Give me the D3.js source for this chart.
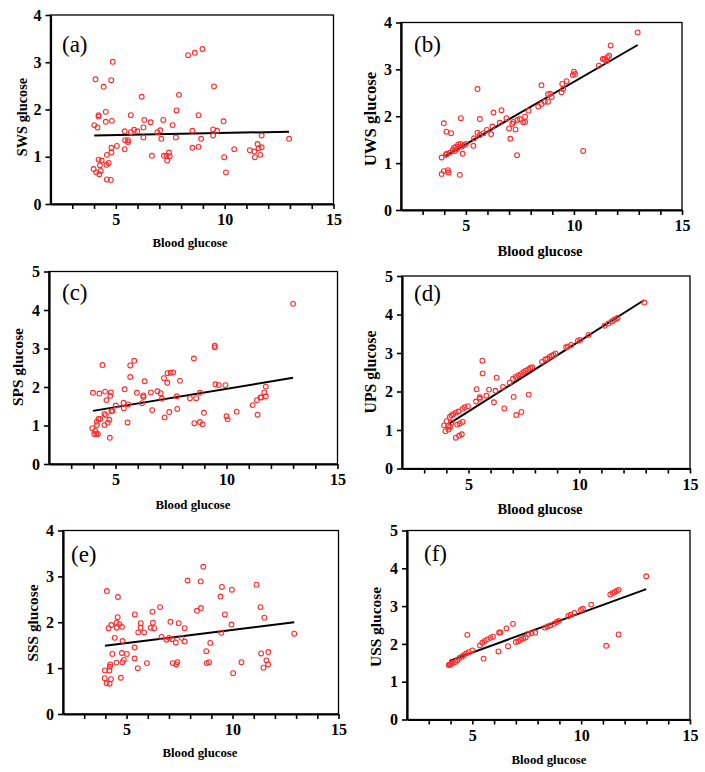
<!DOCTYPE html>
<html>
<head>
<meta charset="utf-8">
<script src="https://cdn.jsdelivr.net/npm/d3@7/dist/d3.min.js"></script>
<style>
  html, body { margin: 0; padding: 0; background: #fff; }
  svg { display: block; }
  text { font-family: "Liberation Serif", "Times New Roman", serif; }
</style>
</head>
<body>
<div id="chart"></div>
<script>
// blood glucose (x) vs. saliva glucose (y), one list of points per panel
const swsPoints = [
  [3.98,0.74],[4.10,0.67],[4.24,0.63],[4.31,0.70],[4.21,0.94],[4.35,0.92],[4.27,0.82],[4.67,0.87],
  [4.57,0.83],[4.59,1.04],[4.80,1.09],[4.80,1.19],[5.05,1.23],[4.59,0.52],[4.77,0.51],[4.01,1.67],
  [4.16,1.62],[4.21,1.88],[4.21,1.85],[4.54,1.95],[4.54,1.74],[4.82,1.76],[4.07,2.64],[4.44,2.48],
  [4.79,2.62],[4.86,3.01],[5.41,1.54],[5.43,1.35],[5.56,1.35],[5.56,1.31],[5.41,1.16],[5.69,1.88],
  [5.69,1.52],[5.84,1.57],[5.99,1.54],[6.19,2.27],[6.27,1.62],[6.27,1.41],[6.31,1.78],[6.60,1.73],
  [6.66,1.02],[6.91,1.52],[7.04,1.56],[7.09,1.38],[7.18,1.78],[7.21,1.02],[7.33,1.02],[7.36,0.92],
  [7.44,1.09],[7.48,1.01],[7.61,1.67],[7.76,1.41],[7.79,1.98],[7.90,2.31],[8.32,3.15],[8.63,3.20],
  [8.98,3.28],[8.52,1.55],[8.52,1.19],[8.80,1.88],[8.80,1.21],[8.92,1.38],[9.47,1.45],[9.47,1.58],
  [9.51,2.49],[9.65,1.55],[9.95,1.75],[9.98,0.99],[10.06,0.67],[10.44,1.16],[11.16,1.14],[11.36,1.11],
  [11.39,0.99],[11.51,1.27],[11.56,1.18],[11.64,1.04],[11.70,1.45],[11.70,1.20],[12.96,1.38]
];
const uwsPoints = [
  [3.88,1.12],[3.88,0.77],[3.98,0.83],[3.98,1.85],[4.08,1.18],[4.12,1.20],[4.10,1.67],[4.17,0.85],
  [4.20,0.80],[4.26,1.22],[4.32,1.64],[4.40,1.28],[4.45,1.33],[4.50,1.26],[4.55,1.35],[4.60,1.30],
  [4.65,1.40],[4.72,0.75],[4.77,1.96],[4.77,1.41],[4.80,1.35],[4.85,1.20],[4.90,1.38],[5.00,1.41],
  [5.35,1.37],[5.38,1.53],[5.54,2.58],[5.54,1.65],[5.65,1.94],[5.65,1.60],[5.82,1.64],[5.97,1.71],
  [6.17,1.62],[6.23,1.78],[6.28,2.08],[6.57,1.86],[6.65,2.13],[6.88,1.96],[7.00,1.74],[7.06,1.52],
  [7.15,1.84],[7.20,1.88],[7.30,1.72],[7.37,1.17],[7.38,1.92],[7.50,1.94],[7.65,1.87],[7.74,1.99],
  [7.74,1.88],[7.90,2.12],[8.35,2.21],[8.50,2.26],[8.50,2.66],[8.65,2.31],[8.80,2.31],[8.80,2.47],
  [8.90,2.48],[8.97,2.41],[9.43,2.51],[9.46,2.69],[9.50,2.58],[9.66,2.75],[9.95,2.88],[10.00,2.95],
  [10.05,2.90],[10.43,1.26],[11.15,3.08],[11.34,3.22],[11.42,3.22],[11.50,3.18],[11.55,3.26],[11.63,3.29],
  [11.70,3.51],[12.95,3.79]
];
const spsPoints = [
  [3.95,0.93],[3.98,1.85],[4.04,0.78],[4.13,0.78],[4.20,0.78],[4.08,0.86],[4.16,1.01],[4.16,1.10],
  [4.23,1.17],[4.31,1.17],[4.27,1.83],[4.41,2.57],[4.53,1.88],[4.59,1.66],[4.79,1.86],[4.76,1.77],
  [4.81,1.37],[4.86,1.38],[4.74,0.68],[4.65,1.07],[4.72,1.15],[4.50,1.01],[4.56,1.27],[4.50,1.30],
  [5.01,1.52],[5.36,1.59],[5.37,1.45],[5.41,1.94],[5.54,1.08],[5.57,1.55],[5.66,2.56],[5.66,2.26],
  [5.84,2.68],[5.96,1.85],[6.19,1.58],[6.25,1.78],[6.26,1.74],[6.31,2.15],[6.59,1.86],[6.65,1.40],
  [6.89,1.89],[7.03,1.84],[7.09,1.70],[7.18,2.23],[7.21,1.21],[7.33,2.11],[7.34,2.36],[7.48,2.37],
  [7.60,2.38],[7.42,1.35],[7.76,1.76],[7.78,1.43],[7.90,2.16],[8.35,1.71],[8.53,2.74],[8.55,1.06],
  [8.63,1.71],[8.80,1.85],[8.80,1.09],[8.92,1.03],[8.98,1.33],[9.47,3.07],[9.47,3.03],[9.50,2.07],
  [9.65,2.05],[9.95,2.05],[10.00,1.24],[10.05,1.16],[10.46,1.36],[11.18,1.53],[11.37,1.66],[11.40,1.28],
  [11.53,1.73],[11.57,1.73],[11.70,1.86],[11.77,2.01],[11.77,1.76],[13.00,4.16]
];
const upsPoints = [
  [3.90,1.12],[3.96,0.97],[4.01,1.23],[4.08,1.10],[4.10,1.01],[4.17,1.08],[4.16,1.34],[4.23,1.38],
  [4.31,1.41],[4.43,1.45],[4.55,1.48],[4.23,1.19],[4.43,0.80],[4.58,0.85],[4.70,0.89],[4.49,1.14],
  [4.61,1.17],[4.73,1.21],[4.73,1.55],[4.83,1.59],[4.98,1.62],[5.37,2.06],[5.34,1.74],[5.51,1.81],
  [5.51,1.85],[5.63,2.80],[5.64,2.47],[5.81,1.89],[5.93,2.05],[6.15,1.72],[6.22,2.02],[6.27,2.36],
  [6.56,2.12],[6.62,1.56],[6.86,2.23],[7.01,2.33],[7.13,2.38],[7.25,2.42],[7.36,2.45],[7.48,2.50],
  [7.58,2.54],[7.70,2.57],[7.79,2.61],[7.88,2.63],[7.04,1.86],[7.16,1.39],[7.39,1.47],[7.72,1.92],
  [8.32,2.77],[8.47,2.83],[8.56,2.85],[8.66,2.90],[8.75,2.93],[8.84,2.95],[8.93,2.99],[9.41,3.15],
  [9.49,3.17],[9.64,3.21],[9.94,3.32],[10.04,3.34],[10.42,3.47],[11.14,3.71],[11.32,3.77],[11.47,3.82],
  [11.56,3.86],[11.65,3.88],[11.73,3.91],[12.94,4.31]
];
const sssPoints = [
  [4.07,2.68],[4.59,2.55],[4.58,2.11],[4.15,1.87],[4.28,1.94],[4.53,1.99],[4.66,1.96],[4.78,1.90],
  [4.53,1.88],[4.44,1.66],[4.81,1.59],[4.33,1.31],[4.78,1.33],[5.01,1.31],[4.87,1.18],[4.80,1.13],
  [4.52,1.12],[4.23,1.08],[4.21,1.03],[4.19,0.95],[3.98,0.95],[3.97,0.78],[4.06,0.67],[4.20,0.66],
  [4.26,0.76],[4.73,0.79],[5.39,2.17],[5.38,1.45],[5.38,1.21],[5.53,1.00],[5.55,1.78],[5.66,1.88],
  [5.67,1.98],[5.83,1.78],[5.96,1.11],[6.22,2.23],[6.24,1.99],[6.14,1.88],[6.30,1.87],[6.58,2.33],
  [6.65,1.68],[6.88,1.62],[7.00,1.66],[7.07,2.01],[7.16,1.63],[7.32,1.56],[7.18,1.11],[7.34,1.08],
  [7.40,1.13],[7.46,1.98],[7.59,1.66],[7.74,1.87],[7.74,1.58],[7.88,2.91],[8.32,2.25],[8.50,2.89],
  [8.51,2.31],[8.62,3.21],[8.76,1.37],[8.78,1.11],[8.89,1.13],[8.95,1.55],[9.43,2.56],[9.50,2.77],
  [9.47,1.77],[9.64,2.17],[9.95,1.95],[9.97,2.71],[10.03,0.89],[10.42,1.13],[11.13,2.82],[11.32,2.33],
  [11.35,1.32],[11.50,2.10],[11.60,1.17],[11.68,1.08],[11.46,1.01],[11.69,1.35],[12.91,1.75]
];
const ussPoints = [
  [3.92,1.44],[3.96,1.45],[4.00,1.46],[4.05,1.48],[4.10,1.50],[4.22,1.52],[4.31,1.57],[4.41,1.63],
  [4.52,1.66],[4.61,1.70],[4.72,1.75],[4.83,1.78],[5.00,1.83],[4.77,2.24],[5.35,1.96],[5.46,2.03],
  [5.57,2.08],[5.69,2.12],[5.83,2.16],[5.95,2.19],[5.52,1.61],[6.20,1.80],[6.23,2.30],[6.29,2.30],
  [6.57,2.41],[6.64,1.94],[6.87,2.53],[7.00,2.05],[7.11,2.07],[7.22,2.11],[7.34,2.15],[7.45,2.17],
  [7.57,2.26],[7.72,2.28],[7.89,2.30],[8.34,2.43],[8.46,2.46],[8.58,2.49],[8.75,2.53],[8.88,2.58],
  [8.98,2.61],[9.41,2.74],[9.52,2.77],[9.69,2.82],[9.99,2.90],[10.08,2.93],[10.46,3.04],[11.15,1.95],
  [11.34,3.31],[11.45,3.35],[11.54,3.37],[11.63,3.40],[11.72,3.43],[11.72,2.25],[12.99,3.79]
];

// fitted regression lines, [x, y] at each end
const swsFit = [[4.01, 1.45], [12.96, 1.53]];
const uwsFit = [[4.05, 1.15], [12.95, 3.52]];
const spsFit = [[3.98, 1.38], [13.00, 2.24]];
const upsFit = [[4.15, 1.17], [12.92, 4.37]];
const sssFit = [[3.98, 1.49], [12.91, 2.00]];
const ussFit = [[3.95, 1.55], [12.99, 3.45]];

const panelTags = ["(a)", "(b)", "(c)", "(d)", "(e)", "(f)"];
const yTitles = ["SWS glucose", "UWS glucose", "SPS glucose", "UPS glucose", "SSS glucose", "USS glucose"];
const yMaxes = [4, 4, 5, 5, 4, 5];
const xTitle = "Blood glucose";
const xDomain = [2, 15];
const xTickLabels = [5, 10, 15];

const pointSets = [swsPoints, uwsPoints, spsPoints, upsPoints, sssPoints, ussPoints];
const fitSets = [swsFit, uwsFit, spsFit, upsFit, sssFit, ussFit];

// 面板版面 / panel layout in page pixels
const layout = [
  { l: 50.5, t: 15,    r: 333.5, b: 204,   yt: [22, 117, 14.3],  xt: [190, 247, 12.8], tag: [62, 52] },
  { l: 401,  t: 22.5,  r: 682,   b: 210,   yt: [370, 119, 16.8], xt: [540, 256, 14.5], tag: [414, 52] },
  { l: 49,   t: 271.5, r: 337.5, b: 464,   yt: [17, 367, 15.3],  xt: [193, 509, 12.8], tag: [62, 300] },
  { l: 402,  t: 276,   r: 690,   b: 468.5, yt: [370, 372, 15.8], xt: [540, 514, 14.5], tag: [414, 301] },
  { l: 63,   t: 530.5, r: 338.5, b: 714,   yt: [32, 623, 15.3],  xt: [200, 757, 12.8], tag: [71, 562] },
  { l: 407,  t: 530.5, r: 690,   b: 719.5, yt: [375, 627, 15.4], xt: [549, 764, 12.8], tag: [424, 561] }
];

const width = 705, height = 772;
const svg = d3.select("#chart").append("svg")
  .attr("width", width).attr("height", height)
  .attr("viewBox", `0 0 ${width} ${height}`);
svg.append("rect").attr("width", width).attr("height", height).attr("fill", "#fff");

layout.forEach((p, i) => {
  const x = d3.scaleLinear().domain(xDomain).range([p.l, p.r]);
  const y = d3.scaleLinear().domain([0, yMaxes[i]]).range([p.b, p.t]);
  const g = svg.append("g");

  // 外框 (上、右較細) / frame, top and right are thinner
  g.append("rect")
    .attr("x", p.l).attr("y", p.t)
    .attr("width", p.r - p.l).attr("height", p.b - p.t)
    .attr("fill", "none").attr("stroke", "#000").attr("stroke-width", 1.3);

  const yAxis = g.append("g")
    .attr("transform", `translate(${p.l},0)`)
    .call(d3.axisLeft(y).tickValues(d3.range(0, yMaxes[i] + 1)).tickSize(5).tickSizeOuter(0).tickPadding(4)
      .tickFormat(d3.format("d")));
  const xAxis = g.append("g")
    .attr("transform", `translate(0,${p.b})`)
    .call(d3.axisBottom(x).tickValues(d3.range(3, 16)).tickSize(5).tickSizeOuter(0).tickPadding(5)
      .tickFormat(d => xTickLabels.includes(d) ? d : ""));

  [yAxis, xAxis].forEach(a => {
    a.select(".domain").attr("stroke-width", 2.2);
    a.selectAll(".tick line").attr("stroke-width", 1.6);
    a.selectAll(".tick text")
      .attr("font-weight", "bold").attr("font-size", 16).attr("fill", "#000");
  });

  // 回歸線 / regression line
  g.append("line")
    .attr("x1", x(fitSets[i][0][0])).attr("y1", y(fitSets[i][0][1]))
    .attr("x2", x(fitSets[i][1][0])).attr("y2", y(fitSets[i][1][1]))
    .attr("stroke", "#000").attr("stroke-width", 2);

  g.append("g").selectAll("circle").data(pointSets[i]).enter().append("circle")
    .attr("cx", d => x(d[0])).attr("cy", d => y(d[1])).attr("r", 2.4)
    .attr("fill", "none").attr("stroke", "#ff2b2b").attr("stroke-width", 1.1);

  g.append("text").attr("x", p.tag[0]).attr("y", p.tag[1])
    .attr("font-size", 23).attr("fill", "#000").text(panelTags[i]);

  g.append("text")
    .attr("transform", `translate(${p.yt[0]},${p.yt[1]}) rotate(-90)`)
    .attr("text-anchor", "middle").attr("dominant-baseline", "central")
    .attr("font-weight", "bold").attr("font-size", p.yt[2]).attr("fill", "#000")
    .text(yTitles[i]);

  g.append("text").attr("x", p.xt[0]).attr("y", p.xt[1])
    .attr("text-anchor", "middle")
    .attr("font-weight", "bold").attr("font-size", p.xt[2]).attr("fill", "#000")
    .text(xTitle);
});
</script>
</body>
</html>
